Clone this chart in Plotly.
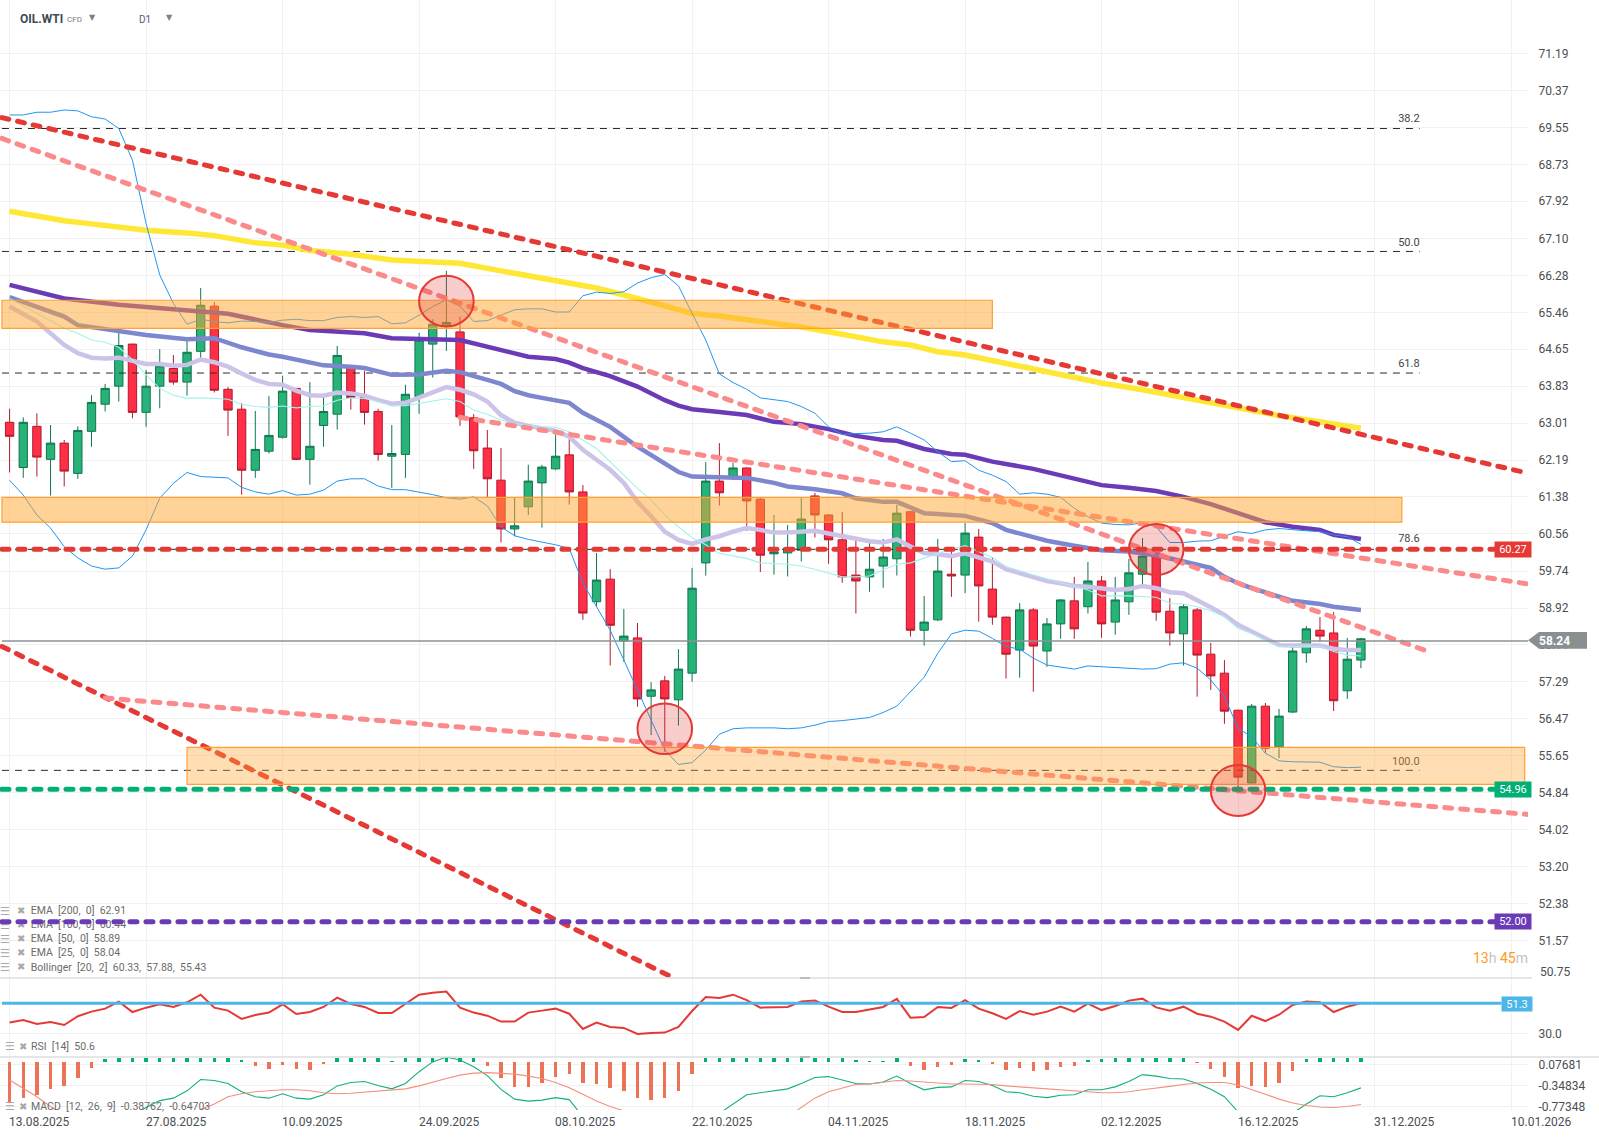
import plotly.graph_objects as go

W, H = 1599, 1139

date_idx = [0, 10, 20, 30, 40, 50, 60, 70, 80, 90, 100, 110]
date_labels = ["13.08.2025", "27.08.2025", "10.09.2025", "24.09.2025", "08.10.2025", "22.10.2025",
               "04.11.2025", "18.11.2025", "02.12.2025", "16.12.2025", "31.12.2025", "10.01.2026"]
price_labels = [71.19, 70.37, 69.55, 68.73, 67.92, 67.10, 66.28, 65.46, 64.65, 63.83, 63.01, 62.19, 61.38,
                60.56, 59.74, 58.92, 58.11, 57.29, 56.47, 55.65, 54.84, 54.02, 53.20, 52.38, 51.57, 50.75]
PRICE_LABEL_SHIFT = 0.05

opens = [63.08,62.08,62.99,62.26,62.62,61.95,62.88,63.48,63.88,64.81,
         63.30,63.88,64.27,63.97,64.65,65.65,63.81,63.37,62.02,62.44,
         62.75,63.83,62.26,63.01,63.26,64.27,63.63,63.32,62.33,62.37,
         63.65,64.81,65.21,65.08,63.18,62.51,61.80,60.72,61.21,61.74,
         62.05,62.36,61.54,59.11,59.61,58.24,58.31,57.02,57.36,56.94,
         57.53,59.97,61.78,61.89,62.07,61.38,60.17,60.19,60.25,61.45,
         61.03,60.48,59.70,59.66,59.90,60.06,61.10,58.48,58.71,59.72,
         59.70,60.54,59.39,58.77,58.04,58.93,58.02,58.62,59.13,59.00,
         59.57,58.66,59.11,59.72,60.19,58.90,58.40,58.93,57.95,57.53,
         56.71,55.10,56.80,55.90,56.67,57.98,58.48,58.42,57.14,57.82]
closes = [62.77,63.08,62.31,62.62,62.00,62.90,63.52,63.83,64.78,63.30,
          63.88,64.33,63.97,64.63,65.67,63.79,63.35,62.02,62.48,62.79,
          63.77,62.26,62.55,63.32,64.56,63.63,63.30,62.37,62.39,63.70,
          64.90,65.25,65.29,63.20,62.45,61.83,60.72,60.79,61.78,62.09,
          62.33,61.54,58.86,59.59,58.59,58.35,56.96,57.16,56.96,57.62,
          59.41,61.78,61.52,62.07,61.34,60.14,60.21,60.30,60.94,61.03,
          60.48,59.66,59.57,59.83,60.10,61.07,58.48,58.66,59.79,59.68,
          60.63,59.46,58.77,57.95,58.93,58.13,58.62,59.15,58.51,59.57,
          58.62,59.15,59.75,60.12,58.88,58.42,59.00,57.93,57.47,56.69,
          55.23,56.80,55.87,56.58,58.02,58.51,58.35,56.92,57.84,58.29]
highs = [63.38,63.19,63.28,63.02,62.69,62.99,63.68,63.93,65.06,64.82,
         64.24,64.70,64.57,64.88,66.05,65.74,63.86,63.50,63.33,63.66,
         64.11,63.84,63.97,63.64,64.77,64.28,64.22,63.38,63.02,63.91,
         65.06,65.36,66.43,65.42,63.26,62.91,62.51,61.41,62.14,62.14,
         62.80,62.87,61.69,60.19,59.83,58.95,58.64,57.33,57.47,58.06,
         59.86,62.20,62.62,62.18,62.08,61.41,61.03,60.81,61.41,61.52,
         61.04,61.10,60.48,60.43,60.50,61.25,61.11,59.24,60.50,60.23,
         60.85,60.72,60.10,58.78,59.08,58.97,58.75,59.17,59.66,59.99,
         59.68,59.66,60.06,60.52,60.20,59.19,59.06,58.97,58.20,57.82,
         56.72,56.85,56.87,56.74,58.11,58.57,58.77,58.88,58.31,58.31]
lows = [61.97,61.85,61.88,61.46,61.66,61.83,62.54,63.32,63.54,63.17,
        62.98,63.39,63.91,63.67,64.50,63.74,62.78,61.48,61.85,62.39,
        62.72,62.24,61.70,62.54,62.92,63.36,63.03,62.23,61.63,61.85,
        63.27,64.07,64.66,63.00,62.05,61.43,60.42,60.56,61.03,60.75,
        62.02,61.26,58.71,59.00,57.70,57.78,56.79,56.16,55.79,56.37,
        57.34,59.69,61.24,61.80,60.68,59.77,59.71,59.67,60.00,60.53,
        59.95,59.53,58.85,59.33,59.42,59.69,58.34,58.14,58.68,59.22,
        59.30,58.67,58.60,57.41,57.43,57.12,57.67,58.29,58.29,58.85,
        58.31,58.38,58.82,59.42,58.69,58.14,57.70,57.01,57.16,56.41,
        54.90,55.09,55.76,55.65,56.65,57.76,58.22,56.69,56.96,57.64]

yellow_idx = [0,4,6,10,13,15,18,20,22,25,28,30,33,36,38,40,43,46,48,50,52,55,58,61,64,66,68,70,72,79,80,83,86,90,93,96,99]
yellow = [67.75,67.54,67.47,67.33,67.27,67.21,67.05,67.00,66.88,66.80,66.67,66.63,66.60,66.43,66.32,66.24,66.05,
          65.82,65.65,65.49,65.43,65.31,65.19,65.03,64.86,64.79,64.64,64.57,64.44,64.01,63.95,63.80,63.64,63.40,63.23,63.09,62.95]
ema200_idx = [0,4,8,14,16,20,22,26,28,33,36,38,40,41,42,44,46,48,49,50,52,54,56,58,60,62,64,65,67,69,70,72,75,78,80,82,84,86,88,90,92,94,96,97,99]
ema200 = [66.12,65.82,65.68,65.52,65.48,65.23,65.12,65.05,64.94,64.90,64.68,64.53,64.48,64.40,64.28,64.10,63.87,63.57,
          63.45,63.37,63.31,63.24,63.09,63.04,62.93,62.78,62.69,62.67,62.49,62.38,62.36,62.21,62.05,61.83,61.69,61.63,
          61.56,61.43,61.27,61.07,60.87,60.77,60.70,60.59,60.50]
ema100_idx = [0,2,4,5,8,10,13,15,17,19,20,23,25,26,28,30,32,33,35,36,37,38,39,40,41,42,44,46,48,49,50,52,54,56,57,59,61,62,64,65,67,68,70,72,73,75,76,78,80,82,84,86,88,89,90,91,93,94,96,97,99]
ema100 = [65.85,65.64,65.42,65.23,65.11,65.01,64.92,64.94,64.74,64.58,64.53,64.34,64.31,64.28,64.13,64.14,64.22,64.19,
          64.02,63.93,63.77,63.68,63.62,63.57,63.51,63.29,62.98,62.54,62.16,61.98,61.88,61.87,61.85,61.74,61.66,61.60,
          61.51,61.40,61.32,61.32,61.07,61.05,61.01,60.85,60.70,60.54,60.46,60.35,60.25,60.22,60.14,60.00,59.86,59.66,
          59.52,59.41,59.22,59.13,59.06,59.00,58.93]
ema50_idx = [0,2,4,5,6,7,8,9,10,11,12,13,14,15,16,17,18,19,20,21,22,23,24,25,26,27,28,29,30,31,32,33,34,35,36,37,38,40,41,42,44,
             45,46,47,48,49,50,51,52,53,54,55,56,57,58,59,60,61,62,63,64,65,66,67,68,69,70,71,72,73,74,75,76,77,78,79,80,81,82,
             83,84,85,86,87,88,89,90,91,92,93,94,95,96,97,98,99]
ema50 = [65.64,65.31,64.79,64.61,64.51,64.49,64.51,64.44,64.37,64.37,64.33,64.35,64.47,64.41,64.31,64.16,64.02,63.93,63.91,
         63.78,63.68,63.67,63.74,63.72,63.67,63.57,63.49,63.51,63.62,63.74,63.86,63.80,63.70,63.54,63.24,63.07,63.00,62.89,
         62.76,62.47,62.03,61.74,61.32,61.00,60.66,60.48,60.39,60.49,60.56,60.66,60.74,60.70,60.64,60.64,60.66,60.68,60.62,
         60.56,60.49,60.45,60.42,60.49,60.33,60.19,60.16,60.12,60.18,60.09,60.00,59.83,59.75,59.66,59.57,59.52,59.46,59.44,
         59.41,59.37,59.39,59.46,59.41,59.32,59.30,59.15,58.99,58.82,58.60,58.45,58.30,58.15,58.14,58.15,58.14,58.07,58.04,58.04]
ema25_idx = [0,2,4,5,6,7,8,9,10,11,12,13,14,15,16,17,18,19,20,21,22,23,24,25,26,27,28,29,30,31,32,33,34,35,36,37,38,40,41,43,46,47,
             48,49,50,51,52,54,55,57,58,59,60,61,62,63,64,65,66,67,68,70,71,72,73,75,77,79,80,82,84,85,86,87,88,89,90,91,92,93,94,95,96,97,98,99]
ema25 = [65.82,65.49,65.16,65.05,64.90,64.85,64.74,64.46,64.13,63.83,63.68,63.61,63.62,63.61,63.59,63.48,63.43,63.41,63.44,
         63.40,63.43,63.44,63.57,63.62,63.61,63.54,63.44,63.45,63.50,63.54,63.60,63.54,63.35,63.26,63.13,63.06,63.00,62.97,
         62.87,62.50,61.62,61.36,61.03,60.77,60.53,60.37,60.18,60.07,59.97,59.94,59.90,59.83,59.74,59.66,59.66,59.68,59.81,
         59.94,59.97,60.07,60.18,60.35,60.22,60.09,59.89,59.70,59.53,59.37,59.24,59.24,59.21,59.07,59.06,59.00,58.91,58.78,
         58.52,58.41,58.26,58.12,58.12,58.13,58.12,58.01,57.93,57.91]
boll_upper = [69.88,69.88,69.94,69.94,69.99,69.97,69.84,69.79,69.58,68.88,67.48,66.34,65.71,65.25,65.36,65.31,65.28,65.32,65.31,65.29,
              65.34,65.36,65.33,65.33,65.40,65.42,65.40,65.42,65.26,65.28,65.45,65.64,65.79,65.65,65.31,65.33,65.45,65.57,65.59,65.59,
              65.52,65.52,65.88,65.96,65.93,65.97,66.16,66.28,66.35,66.10,65.49,64.90,64.15,63.96,63.81,63.62,63.58,63.54,63.43,63.28,
              62.98,62.81,62.83,62.84,62.87,62.98,62.84,62.69,62.43,62.21,62.23,62.02,61.91,61.77,61.49,61.52,61.49,61.42,61.18,60.99,
              60.85,60.82,60.81,60.86,60.77,60.42,60.42,60.45,60.46,60.56,60.66,60.62,60.70,60.73,60.70,60.68,60.66,60.59,60.55,60.38]
boll_lower = [61.80,61.47,61.03,60.74,60.33,60.08,59.90,59.83,59.86,60.12,60.70,61.40,61.73,61.97,61.88,61.87,61.85,61.64,61.54,61.49,
              61.57,61.47,61.49,61.58,61.78,61.83,61.83,61.67,61.59,61.59,61.54,61.48,61.41,61.38,61.43,61.23,60.77,60.57,60.49,60.43,
              60.37,60.29,59.52,59.00,58.48,57.82,57.16,56.49,55.83,55.51,55.55,55.83,56.18,56.30,56.32,56.32,56.32,56.30,56.32,56.38,
              56.46,56.48,56.52,56.55,56.66,56.80,57.12,57.44,57.97,58.40,58.48,58.46,58.30,58.12,58.06,57.86,57.71,57.67,57.62,57.69,
              57.67,57.65,57.64,57.62,57.63,57.73,57.76,57.64,57.38,57.01,56.31,56.12,55.76,55.59,55.57,55.56,55.56,55.46,55.44,55.45]

trend_top_x, trend_top_y = [-0.56, 110.87], [69.82, 61.98]
trend_mid_x, trend_mid_y = [-0.56, 103.84], [69.36, 58.02]
trend_upper_x, trend_upper_y = [33, 111.3], [63.19, 59.50]
trend_lower_x, trend_lower_y = [7, 111.46], [56.98, 54.40]
trend_steep_x, trend_steep_y = [-0.56, 48.5], [58.12, 50.81]

fib_levels = [69.58, 66.86, 64.17, 60.27, 55.38]
fib_text = ["38.2", "50.0", "61.8", "78.6", "100.0"]
fib_text_y = [69.78, 67.05, 64.37, 60.50, 55.57]

rsi = [37.6,39.5,36.6,38.0,35.9,42.1,45.4,47.5,52.5,45.1,48.2,50.6,48.7,52.0,57.4,48.2,46.1,40.2,43.0,44.7,
       50.6,43.7,45.1,48.7,55.3,50.8,48.7,44.4,44.4,50.8,57.4,58.8,59.6,48.2,44.7,42.5,38.3,38.3,44.7,46.1,
       47.5,43.9,33.1,37.6,34.5,33.8,29.5,30.2,30.5,34.5,45.8,55.8,55.1,57.4,53.6,48.2,48.7,48.7,52.5,53.2,
       48.9,45.1,45.1,46.8,48.7,54.4,41.1,41.6,48.7,48.0,53.6,47.5,44.2,40.2,45.8,43.2,45.4,48.9,45.4,51.0,
       46.5,49.4,53.2,54.6,48.4,46.1,48.9,43.9,41.8,38.3,32.4,42.5,38.7,43.2,50.1,52.5,52.0,45.1,48.9,51.3]

macd = [None,None,None,None,None,None,None,None,None,-0.95,-0.79,-0.65,-0.60,-0.45,-0.22,-0.24,-0.30,-0.47,-0.57,-0.60,
        -0.51,-0.60,-0.62,-0.53,-0.35,-0.28,-0.26,-0.34,-0.41,-0.30,-0.06,0.14,0.24,0.18,0.04,-0.14,-0.42,-0.62,-0.66,-0.64,
        -0.59,-0.63,-0.98,-1.1,None,None,None,None,None,None,None,-1.1,-0.91,-0.71,-0.53,-0.49,-0.45,-0.41,-0.30,-0.18,
        -0.16,-0.23,-0.30,-0.31,-0.27,-0.15,-0.30,-0.43,-0.38,-0.37,-0.24,-0.26,-0.34,-0.47,-0.49,-0.56,-0.59,-0.54,-0.53,-0.43,
        -0.43,-0.37,-0.26,-0.12,-0.15,-0.20,-0.21,-0.30,-0.42,-0.57,-0.88,-1.05,-1.15,-1.05,-0.91,-0.72,-0.55,-0.57,-0.49,-0.39]
signal = [-0.23,-0.40,-0.57,-0.77,-0.95,None,None,None,None,None,None,None,None,-0.95,-0.84,-0.72,-0.57,-0.51,-0.47,-0.45,
          -0.43,-0.43,-0.45,-0.49,-0.51,-0.50,-0.48,-0.45,-0.44,-0.41,-0.35,-0.27,-0.20,-0.13,-0.09,-0.08,-0.09,-0.11,-0.15,-0.20,
          -0.28,-0.39,-0.52,-0.66,-0.77,-0.85,-0.95,None,None,None,None,None,None,None,None,None,None,-0.98,-0.79,-0.60,
          -0.47,-0.39,-0.32,-0.31,-0.28,-0.24,-0.25,-0.27,-0.29,-0.31,-0.31,-0.31,-0.32,-0.35,-0.37,-0.39,-0.41,-0.43,-0.45,-0.47,
          -0.49,-0.49,-0.47,-0.43,-0.40,-0.36,-0.32,-0.29,-0.28,-0.28,-0.33,-0.42,-0.52,-0.62,-0.70,-0.75,-0.78,-0.79,-0.77,-0.73]
hist = [-0.83,-0.73,-0.67,-0.55,-0.49,-0.33,-0.12,0.06,0.08,0.08,0.08,0.08,0.08,0.08,0.08,0.08,0.08,0.04,-0.08,-0.14,
        -0.06,-0.14,-0.16,-0.04,0.08,0.08,0.08,0.08,0.01,0.08,0.08,0.08,0.08,0.08,0.08,-0.08,-0.33,-0.51,-0.51,-0.43,
        -0.31,-0.24,-0.43,-0.45,-0.53,-0.59,-0.73,-0.78,-0.73,-0.59,-0.24,0.08,0.08,0.08,0.08,0.08,0.08,0.08,0.08,0.08,
        0.08,0.08,0.03,0.01,0.01,0.08,-0.08,-0.16,-0.10,-0.06,0.06,0.04,-0.04,-0.16,-0.12,-0.18,-0.16,-0.10,-0.08,0.03,
        0.06,0.08,0.08,0.08,0.08,0.08,0.08,-0.02,-0.14,-0.31,-0.53,-0.49,-0.51,-0.43,-0.18,0.06,0.08,0.08,0.08,0.08]
bars = list(range(100))

legend_rows = ["EMA  [200,  0]  62.91", "EMA  [100,  0]  60.44", "EMA  [50,  0]  58.89",
               "EMA  [25,  0]  58.04", "Bollinger  [20,  2]  60.33,  57.88,  55.43"]
legend_y = [52.25, 51.94, 51.63, 51.32, 51.01]

last_price, sup_price, res_price, low_price, rsi_level = 58.24, 54.96, 60.27, 52.03, 51.3

GREEN, GREEN_DK = "#27b277", "#10754f"
RED, RED_DK = "#ff2f47", "#b21a2d"
SALMON, TRED = "#fb8a8a", "#e53935"
GRID = "#f1f1f1"
TXT = "#4a4f54"


def py(Y):
    return 1 - Y / H


def px(X):
    return X / W


fig = go.Figure()

fig.add_trace(go.Candlestick(x=bars, open=opens, high=highs, low=lows, close=closes, whiskerwidth=0,
                             increasing=dict(fillcolor=GREEN, line=dict(color=GREEN_DK, width=1)),
                             decreasing=dict(fillcolor=RED, line=dict(color=RED_DK, width=1))))


def line(x, y, color, width, dash=None, yaxis="y"):
    fig.add_trace(go.Scatter(x=x, y=y, mode="lines", yaxis=yaxis,
                             line=dict(color=color, width=width, dash=dash), connectgaps=False))


for lvl in fib_levels:
    line([-0.56, 103.3], [lvl, lvl], "#2b2b2b", 1, "7px,6px")
fig.add_trace(go.Scatter(x=[103.3] * 5, y=fib_text_y, mode="text", text=fib_text, textposition="middle left",
                         textfont=dict(family="Roboto", size=11, color="#444")))

# indicator legend, drawn beneath the purple level line
fig.add_trace(go.Scatter(x=[1.55] * 5, y=legend_y, mode="text", text=legend_rows, textposition="middle right",
                         textfont=dict(family="Roboto", size=10.5, color="#6b6b6b")))
fig.add_trace(go.Scatter(x=[-0.35] * 5, y=legend_y, mode="text", text=["☰"] * 5, textposition="middle center",
                         textfont=dict(family="DejaVu Sans", size=11, color="#a8a8a8")))
fig.add_trace(go.Scatter(x=[0.85] * 5, y=legend_y, mode="text", text=["✖"] * 5, textposition="middle center",
                         textfont=dict(family="DejaVu Sans", size=10, color="#a8a8a8")))

line(yellow_idx, yellow, "#ffe835", 5.5)
line(ema200_idx, ema200, "#6a3ab7", 4.5)
line(ema100_idx, ema100, "#7c87cf", 4.5)
line(ema50_idx, ema50, "#cdc2e8", 4.5)
line(ema25_idx, ema25, "#a6f1ee", 1.1)
line(bars, boll_upper, "#2196f3", 1)
line(bars, boll_lower, "#2196f3", 1)

DASH = "7px,9px"
TW = 5
line(trend_top_x, trend_top_y, TRED, TW, DASH)
line(trend_steep_x, trend_steep_y, TRED, TW, DASH)
line(trend_mid_x, trend_mid_y, SALMON, TW, DASH)
line(trend_upper_x, trend_upper_y, SALMON, TW, DASH)
line(trend_lower_x, trend_lower_y, SALMON, TW, DASH)
line([-0.56, 108.8], [res_price, res_price], TRED, TW, DASH)
line([-0.56, 108.8], [sup_price, sup_price], "#00b074", TW, DASH)
line([-0.56, 108.8], [low_price, low_price], "#6a3ab7", TW, DASH)
line([-0.56, 111.24], [last_price, last_price], "#8a9396", 1.5)

# RSI
line(bars, rsi, "#e53935", 2, yaxis="y2")
line([-0.56, 109.3], [rsi_level, rsi_level], "#4db6e8", 3, yaxis="y2")

# MACD
fig.add_trace(go.Bar(x=bars, y=hist, width=0.25, yaxis="y3",
                     marker=dict(color=["#00b074" if v > 0 else "#ec7356" for v in hist], line=dict(width=0))))
line(bars, macd, "#14b07a", 1.1, yaxis="y4")
line(bars, signal, "#f2917c", 1.1, yaxis="y4")

shapes = []
band = dict(type="rect", xref="x", yref="y", layer="above", line=dict(color="#ffa033", width=1.2))
shapes.append(dict(band, x0=-0.56, x1=72, y0=65.16, y1=65.78, fillcolor="rgba(255,165,50,0.5)"))
shapes.append(dict(band, x0=-0.56, x1=102, y0=60.87, y1=61.42, fillcolor="rgba(255,165,50,0.5)"))
shapes.append(dict(band, x0=13, x1=111, y0=55.07, y1=55.89, fillcolor="rgba(255,165,50,0.37)"))
for x0, x1, y0, y1 in [(30, 34, 65.20, 66.32), (46, 50, 55.74, 56.86), (82, 86, 59.70, 60.83), (88, 92, 54.37, 55.50)]:
    shapes.append(dict(type="circle", xref="x", yref="y", layer="above", x0=x0, x1=x1, y0=y0, y1=y1,
                       fillcolor="rgba(229,57,53,0.25)", line=dict(color="#e53935", width=2)))
shapes.append(dict(type="line", xref="paper", yref="paper", x0=0, x1=px(1532), y0=py(978), y1=py(978),
                   line=dict(color="#dedede", width=1.5)))
shapes.append(dict(type="line", xref="paper", yref="paper", x0=0, x1=1, y0=py(1057), y1=py(1057),
                   line=dict(color="#dedede", width=1.5)))
for Y in (978, 1057):
    shapes.append(dict(type="rect", xref="paper", yref="paper", x0=px(800), x1=px(810), y0=py(Y + 1), y1=py(Y - 1),
                       fillcolor="#bdbdbd", line=dict(width=0)))
tag = "M {},{} L {},{} L {},{} L {},{} L {},{} Z".format(
    px(1528), py(640.3), px(1539), py(632), px(1587), py(632), px(1587), py(648.7), px(1539), py(648.7))
shapes.append(dict(type="path", xref="paper", yref="paper", path=tag, fillcolor="#899092", line=dict(width=0), layer="above"))


def note(X, Y, text, **kw):
    d = dict(xref="paper", yref="paper", x=px(X), y=py(Y), text=text, showarrow=False,
             font=dict(family="Roboto", size=12, color=TXT), xanchor="left", yanchor="middle")
    font = kw.pop("font", None)
    if font:
        d["font"] = dict(d["font"], **font)
    d.update(kw)
    return d


ann = []
for i, lab in zip(date_idx, date_labels):
    ann.append(dict(note(0, 1122, lab), xref="x", x=i, xshift=-2.5))
for Y, txt, col in [(549.5, "60.27", "#e53935"), (789.5, "54.96", "#00b074"), (921.5, "52.00", "#6a3ab7")]:
    ann.append(note(1513, Y, txt, xanchor="center", bgcolor=col, width=36, height=15, borderpad=0, align="center",
                    font=dict(color="white", size=11)))
ann.append(note(1517.3, 1004.3, "51.3", xanchor="center", bgcolor="#4db6e8", width=30, height=14, borderpad=0,
                align="center", font=dict(color="white", size=11)))
ann.append(note(1554, 641, "<b>58.24</b>", xanchor="center", font=dict(color="white", size=12)))
ann.append(note(1537.5, 972, f"{price_labels[-1]:.2f}"))
ann.append(note(1471, 958,
                '<span style="color:#ff9a1f">13</span><span style="color:#c4c4c4">h</span> '
                '<span style="color:#ff9a1f">45</span><span style="color:#c4c4c4">m</span>',
                font=dict(size=14)))
ann.append(note(18, 19, "<b>OIL.WTI</b>", font=dict(size=12, color="#3d4a55")))
ann.append(note(65, 20, "CFD", font=dict(size=8, color="#7a7a7a")))
ann.append(note(87, 17, "▼", font=dict(family="DejaVu Sans", size=8, color="#808080")))
ann.append(note(137, 20, "D1", font=dict(size=10, color="#5a6068")))
ann.append(note(164, 17, "▼", font=dict(family="DejaVu Sans", size=8, color="#808080")))
ann.append(note(29, 1046, "RSI  [14]  50.6", font=dict(size=10.5, color="#6b6b6b")))
ann.append(note(29, 1106, "MACD  [12,  26,  9]  -0.38762,  -0.64703", font=dict(size=10.5, color="#6b6b6b")))
for Y in (1046, 1106):
    ann.append(note(3, Y, "☰", font=dict(family="DejaVu Sans", size=11, color="#a8a8a8")))
    ann.append(note(17, Y, "✖", font=dict(family="DejaVu Sans", size=10, color="#a8a8a8")))

tickfont = dict(family="Roboto", size=12, color=TXT)
fig.update_layout(
    width=W, height=H, margin=dict(l=0, r=0, t=0, b=0, pad=0, autoexpand=False), paper_bgcolor="white", plot_bgcolor="white",
    showlegend=False, hovermode=False, boxgap=0.39, boxgroupgap=0, bargap=0, dragmode=False,
    xaxis=dict(domain=[0, 1528 / W], range=[-0.703, 111.24], tickvals=date_idx, showticklabels=False, showgrid=True,
               gridcolor=GRID, zeroline=False, rangeslider=dict(visible=False), anchor="y3", showline=False, ticks=""),
    yaxis=dict(domain=[py(978), 1], range=[50.786, 72.423], side="right", anchor="x",
               tickvals=[p + PRICE_LABEL_SHIFT for p in price_labels],
               ticktext=[f"{p:.2f}" for p in price_labels[:-1]] + [" "],
               gridcolor=GRID, zeroline=False, tickfont=tickfont, ticks="outside", ticklen=7, tickcolor="rgba(0,0,0,0)"),
    yaxis2=dict(domain=[py(1057), py(978)], range=[13.2, 69.24], side="right", anchor="x",
                tickvals=[30], ticktext=["30.0"], gridcolor=GRID, zeroline=False, tickfont=tickfont,
                ticks="outside", ticklen=7, tickcolor="rgba(0,0,0,0)"),
    yaxis3=dict(domain=[py(1110), py(1057)], range=[-0.98, 0.102], side="right", anchor="x",
                showticklabels=False, showgrid=False, zeroline=False),
    yaxis4=dict(overlaying="y3", range=[-0.842, 0.24], side="right", anchor="x",
                tickvals=[0.07681, -0.34834, -0.77348], ticktext=["0.07681", "-0.34834", "-0.77348"],
                gridcolor=GRID, zeroline=False, tickfont=tickfont, ticks="outside", ticklen=7,
                tickcolor="rgba(0,0,0,0)"),
    shapes=shapes, annotations=ann,
)

post = """
document.body.style.margin='0';document.body.style.overflow='hidden';
document.querySelectorAll('.js-line').forEach(function(p){
  var w=parseFloat(p.style.strokeWidth), d=p.style.strokeDasharray;
  if(w>=3 && d && d!=='none'){p.style.strokeLinecap='round';}
});
"""
fig.write_html("out.html", post_script=post, config={"displayModeBar": False})
